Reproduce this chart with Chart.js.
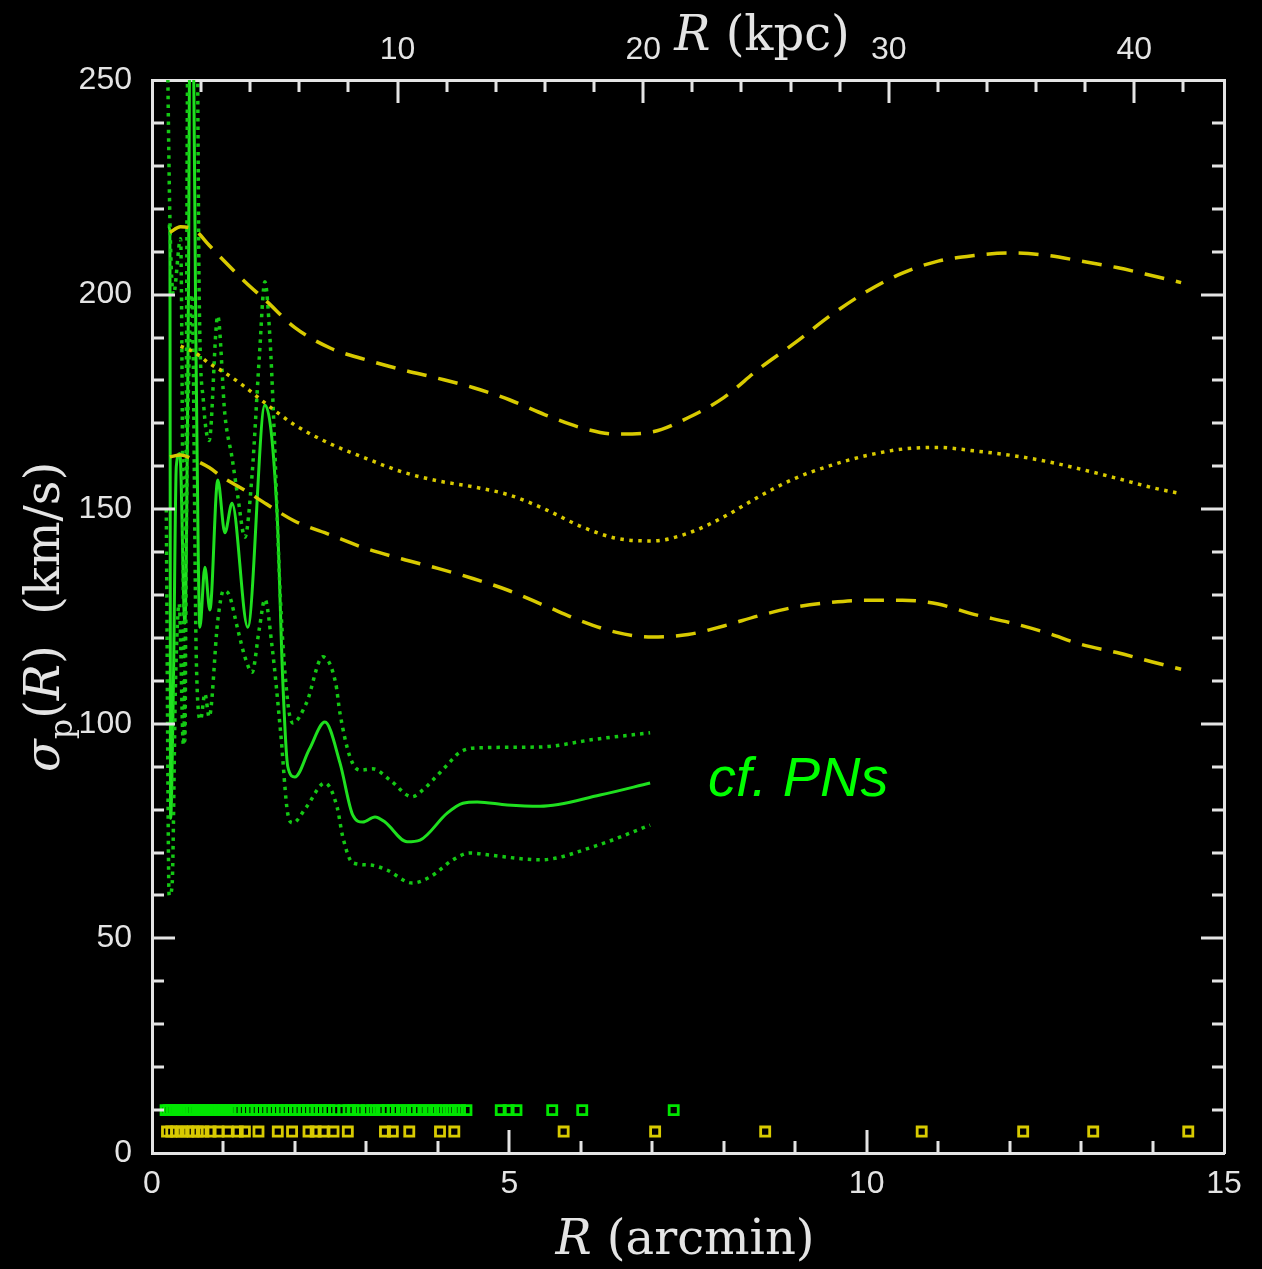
<!DOCTYPE html>
<html>
<head>
<meta charset="utf-8">
<title>sigma_p(R)</title>
<script src="https://cdn.jsdelivr.net/npm/chart.js@4.4.1/dist/chart.umd.min.js"></script>
<style>
  html, body { margin: 0; padding: 0; background: #000; }
  #sigmaChart { display: block; background: #000; }
</style>
</head>
<body>
<canvas id="sigmaChart" width="1262" height="1269"></canvas>
<script>
// 1 arcmin = ~2.91 kpc
const KPC_PER_ARCMIN = 2.91;

// tick labels
const arcminTicks = [0, 5, 10, 15];
const kpcTicks = [10, 20, 30, 40];
const sigmaTicks = [0, 50, 100, 150, 200, 250];

// PN dispersion profile (solid green) and its error band (dotted green)
const pnR = [0.22, 0.25, 0.26, 0.30, 0.34, 0.39, 0.46, 0.51, 0.53, 0.57, 0.62, 0.67, 0.74, 0.81, 0.92, 1.02, 1.12, 1.34, 1.58, 1.75, 1.83, 1.90, 2.00, 2.20, 2.42, 2.63, 2.81, 2.95, 3.12, 3.26, 3.57, 3.75, 4.13, 4.35, 4.55, 4.97, 5.43, 6.27, 6.97];
const pnSigma = [216, 215, 78, 110, 160, 163, 123.5, 200, 262, 262, 180, 122.5, 136.5, 126.5, 156.8, 144.5, 151.4, 122.5, 174.3, 149, 110, 90, 87.6, 94, 100.4, 90.9, 78.7, 77.1, 78.3, 77.1, 72.5, 72.9, 79.2, 81.5, 81.8, 81.1, 80.8, 83.4, 86.2];

const pnUpperR = [0.20, 0.25, 0.30, 0.40, 0.46, 0.50, 0.56, 0.62, 0.66, 0.72, 0.80, 0.92, 1.02, 1.12, 1.20, 1.30, 1.40, 1.50, 1.58, 1.65, 1.70, 1.80, 1.90, 1.97, 2.16, 2.39, 2.57, 2.63, 2.77, 2.91, 3.09, 3.33, 3.64, 3.79, 3.93, 4.13, 4.31, 4.56, 5.43, 6.20, 6.97];
const pnUpper = [280, 218, 200, 213, 96, 260, 300, 290, 200, 175, 166, 195, 172, 162, 153, 143.5, 158, 185, 203, 190, 172, 128, 105, 100.2, 104.8, 115.6, 109.5, 102.5, 92.3, 89.2, 89.5, 86.9, 83, 84.6, 86.9, 90.4, 93.4, 94.4, 94.6, 96.4, 97.9];

const pnLowerR = [0.20, 0.24, 0.28, 0.33, 0.38, 0.44, 0.50, 0.56, 0.62, 0.68, 0.74, 0.80, 0.92, 1.00, 1.08, 1.20, 1.30, 1.40, 1.50, 1.58, 1.68, 1.80, 1.90, 1.97, 2.16, 2.42, 2.59, 2.67, 2.81, 3.05, 3.29, 3.64, 3.89, 4.21, 4.45, 4.73, 5.43, 6.20, 6.97];
const pnLower = [150, 60, 62, 110, 128, 95, 170, 200, 115, 101, 107, 101.6, 124, 131, 130, 122, 115.6, 112, 122, 129, 118, 98, 79, 76.9, 80.6, 86.2, 80.6, 73.6, 67.6, 67.1, 65.9, 62.9, 64.3, 68.3, 69.9, 69.4, 68.3, 71.5, 76.4];

// model curves (yellow): upper / middle / lower
const modelR = [0.25, 0.4, 0.6, 0.8, 1.0, 1.3, 1.6, 2.0, 2.5, 3.0, 3.5, 4.0, 4.5, 5.0, 5.5, 6.0, 6.5, 7.0, 7.5, 8.0, 8.5, 9.0, 9.5, 10.0, 10.5, 11.0, 11.5, 12.0, 12.5, 13.0, 13.5, 14.0, 14.4];
const modelHigh = [214.5, 215.8, 215, 211.5, 208, 203, 198.5, 192.3, 187.5, 184.8, 182.5, 180.5, 178.3, 175.5, 172, 169, 167.5, 168, 171.3, 176, 182.8, 188.8, 195.2, 200.7, 205, 207.8, 209.1, 209.7, 209.2, 207.8, 206.3, 204.4, 202.8];
const modelMid = [null, 188, 186.5, 184, 182, 178.5, 174.5, 169.6, 165.2, 161.8, 158.7, 156.6, 155.2, 153.3, 150, 146, 143.2, 142.6, 144.4, 148.2, 153, 157.2, 160.2, 162.5, 164, 164.4, 163.6, 162.6, 161.2, 159.3, 157.2, 155, 153.6];
const modelLow = [162.2, 162.6, 161.4, 159.7, 157.3, 154.4, 151.2, 147.2, 144, 140.8, 138.4, 136.2, 133.8, 131, 127.5, 124, 121.3, 120.2, 120.8, 122.8, 125.2, 127.2, 128.3, 128.8, 128.8, 127.9, 125.5, 123.6, 121.3, 118.5, 116.6, 114.4, 112.7];

// radii of individual tracers, plotted as rows of squares at the bottom
const pnPosR = [0.19, 0.23, 0.27, 0.31, 0.35, 0.39, 0.43, 0.47, 0.51, 0.55, 0.60, 0.65, 0.70, 0.75, 0.80, 0.85, 0.90, 0.95, 1.00, 1.05, 1.10, 1.16, 1.22, 1.28, 1.34, 1.40, 1.46, 1.52, 1.58, 1.64, 1.70, 1.76, 1.82, 1.88, 1.94, 2.00, 2.06, 2.12, 2.18, 2.24, 2.30, 2.36, 2.42, 2.48, 2.55, 2.68, 2.75, 2.82, 2.90, 3.00, 3.08, 3.17, 3.24, 3.30, 3.37, 3.44, 3.52, 3.60, 3.67, 3.74, 3.82, 3.90, 3.98, 4.06, 4.15, 4.23, 4.31, 4.40, 4.88, 4.99, 5.10, 5.60, 6.02, 7.30];
const starPosR = [0.21, 0.27, 0.34, 0.42, 0.50, 0.57, 0.64, 0.72, 0.82, 0.93, 1.06, 1.20, 1.30, 1.49, 1.76, 1.96, 2.19, 2.29, 2.40, 2.54, 2.74, 3.26, 3.37, 3.60, 4.03, 4.23, 5.76, 7.04, 8.58, 10.77, 12.19, 13.17, 14.50];
const PN_ROW = 10;
const STAR_ROW = 5;

const GREEN = '#1fe01f';
const GREEN_DOT = '#14c814';
const GREEN_MARK = '#00e600';
const YELLOW = '#d8ca00';
const AXIS = '#e4e4e4';

function pts(xs, ys) {
  return xs.map((x, i) => ({ x: x, y: ys[i] }));
}

function lineSet(label, data, color, width, dash) {
  return {
    label: label,
    data: data,
    borderColor: color,
    borderWidth: width,
    borderDash: dash,
    borderCapStyle: 'butt',
    pointRadius: 0,
    tension: 0.4,
    cubicInterpolationMode: 'monotone',
    fill: false
  };
}

function markerSet(label, rs, row, color) {
  return {
    label: label,
    data: rs.map(r => ({ x: r, y: row })),
    showLine: false,
    pointStyle: 'rect',
    pointRadius: 6.4,
    pointBorderWidth: 2.8,
    pointBorderColor: color,
    pointBackgroundColor: 'rgba(0,0,0,0)',
    borderColor: color
  };
}

// draws a row of differently styled text pieces centred on cx
function drawRich(ctx, pieces, cx, baseline) {
  let total = 0;
  pieces.forEach(p => { ctx.font = p.font; p.w = ctx.measureText(p.t).width; total += p.w; });
  let x = cx - total / 2;
  ctx.textBaseline = 'alphabetic';
  ctx.textAlign = 'left';
  pieces.forEach(p => {
    ctx.font = p.font;
    ctx.fillText(p.t, x, baseline + (p.dy || 0));
    x += p.w;
  });
}

// tick marks point inwards on all four sides
const innerTicks = {
  id: 'innerTicks',
  afterDraw(chart) {
    const { ctx, chartArea: a, scales } = chart;
    ctx.save();
    ctx.strokeStyle = AXIS;
    ctx.lineWidth = 3;
    ctx.beginPath();
    for (let v = 1; v < 15; v++) {
      const len = v % 5 === 0 ? 23 : 12;
      const px = Math.round(scales.x.getPixelForValue(v));
      ctx.moveTo(px, a.bottom); ctx.lineTo(px, a.bottom - len);
    }
    for (let k = 2; k < 15 * KPC_PER_ARCMIN; k += 2) {
      const len = k % 10 === 0 ? 23 : 12;
      const px = Math.round(scales.xTop.getPixelForValue(k));
      ctx.moveTo(px, a.top); ctx.lineTo(px, a.top + len);
    }
    for (let s = 10; s < 250; s += 10) {
      const len = s % 50 === 0 ? 23 : 12;
      const py = Math.round(scales.y.getPixelForValue(s));
      ctx.moveTo(a.left, py); ctx.lineTo(a.left + len, py);
      ctx.moveTo(a.right, py); ctx.lineTo(a.right - len, py);
    }
    ctx.stroke();
    ctx.restore();
  }
};

// axis titles and the annotation
const titles = {
  id: 'titles',
  afterDraw(chart) {
    const { ctx, scales } = chart;
    const serif = '"DejaVu Serif", serif';
    ctx.save();
    ctx.fillStyle = AXIS;

    drawRich(ctx, [
      { t: 'R', font: 'italic 48px ' + serif },
      { t: ' (arcmin)', font: '48px ' + serif }
    ], 685, 1254);

    drawRich(ctx, [
      { t: 'R', font: 'italic 48px ' + serif },
      { t: ' (kpc)', font: '48px ' + serif }
    ], 762, 50);

    ctx.save();
    ctx.translate(59, 617);
    ctx.rotate(-Math.PI / 2);
    drawRich(ctx, [
      { t: 'σ', font: 'italic 48px ' + serif },
      { t: 'p', font: '32px ' + serif, dy: 13 },
      { t: '(', font: '48px ' + serif },
      { t: 'R', font: 'italic 48px ' + serif },
      { t: ')  (km/s)', font: '48px ' + serif }
    ], 0, 0);
    ctx.restore();

    ctx.fillStyle = '#00ff00';
    ctx.font = 'italic 56px "Liberation Sans", Arial, sans-serif';
    ctx.textAlign = 'left';
    ctx.textBaseline = 'alphabetic';
    ctx.fillText('cf. PNs', scales.x.getPixelForValue(7.78), scales.y.getPixelForValue(83.2));
    ctx.restore();
  }
};

const tickFont = { family: '"Liberation Sans", Arial, sans-serif', size: 32 };

new Chart(document.getElementById('sigmaChart'), {
  type: 'line',
  data: {
    datasets: [
      markerSet('PN radii', pnPosR, PN_ROW, GREEN_MARK),
      markerSet('star radii', starPosR, STAR_ROW, YELLOW),
      lineSet('model high', pts(modelR, modelHigh), YELLOW, 3.5, [20, 12]),
      lineSet('model', pts(modelR, modelMid), YELLOW, 3.5, [3.5, 5.5]),
      lineSet('model low', pts(modelR, modelLow), YELLOW, 3.5, [20, 12]),
      lineSet('PN upper', pts(pnUpperR, pnUpper), GREEN_DOT, 3.5, [3.5, 5]),
      lineSet('PN lower', pts(pnLowerR, pnLower), GREEN_DOT, 3.5, [3.5, 5]),
      lineSet('PN sigma', pts(pnR, pnSigma), GREEN, 3, [])
    ]
  },
  options: {
    responsive: false,
    devicePixelRatio: 1,
    animation: false,
    layout: { padding: 0 },
    plugins: { legend: { display: false }, tooltip: { enabled: false } },
    scales: {
      x: {
        type: 'linear', position: 'bottom', min: 0, max: 15,
        afterBuildTicks: s => { s.ticks = arcminTicks.map(v => ({ value: v })); },
        afterFit: s => { s.height = 116; },
        ticks: { color: AXIS, font: tickFont, padding: 12, maxRotation: 0 },
        grid: { display: false, drawTicks: false },
        border: { display: true, color: AXIS, width: 3 }
      },
      xTop: {
        type: 'linear', position: 'top', min: 0, max: 15 * KPC_PER_ARCMIN,
        afterBuildTicks: s => { s.ticks = kpcTicks.map(v => ({ value: v })); },
        afterFit: s => { s.height = 80; },
        ticks: { color: AXIS, font: tickFont, padding: 11, maxRotation: 0 },
        grid: { display: false, drawTicks: false },
        border: { display: true, color: AXIS, width: 3 }
      },
      y: {
        type: 'linear', position: 'left', min: 0, max: 250,
        afterBuildTicks: s => { s.ticks = sigmaTicks.map(v => ({ value: v })); },
        afterFit: s => { s.width = 152; },
        ticks: { color: AXIS, font: tickFont, padding: 20 },
        grid: { display: false, drawTicks: false },
        border: { display: true, color: AXIS, width: 3 }
      },
      yRight: {
        type: 'linear', position: 'right', min: 0, max: 250,
        afterFit: s => { s.width = 38; },
        ticks: { display: false },
        grid: { display: false, drawTicks: false },
        border: { display: true, color: AXIS, width: 3 }
      }
    }
  },
  plugins: [innerTicks, titles]
});
</script>
</body>
</html>
